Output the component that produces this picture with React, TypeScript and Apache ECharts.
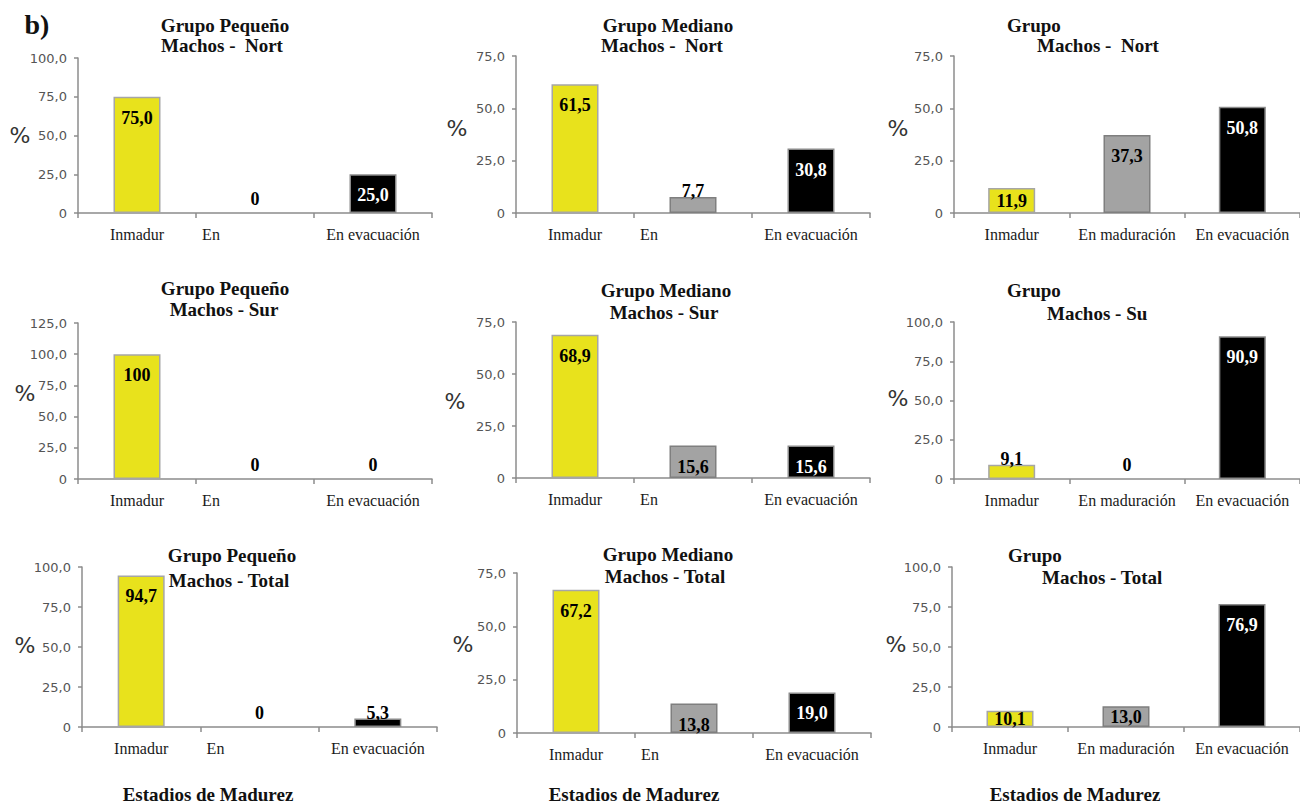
import React, { useEffect, useRef } from "react";
import * as echarts from "echarts";

// ---- data ----
const catsShort = ["Inmadur", "En", "En evacuación"];
const catsFull = ["Inmadur", "En maduración", "En evacuación"];

const pequenoNorte = [75.0, 0, 25.0];
const medianoNorte = [61.5, 7.7, 30.8];
const grandeNorte = [11.9, 37.3, 50.8];
const pequenoSur = [100, 0, 0];
const medianoSur = [68.9, 15.6, 15.6];
const grandeSur = [9.1, 0, 90.9];
const pequenoTotal = [94.7, 0, 5.3];
const medianoTotal = [67.2, 13.8, 19.0];
const grandeTotal = [10.1, 13.0, 76.9];

const yMaxes = [100, 75, 75, 125, 75, 100, 100, 75, 100];
const yStep = 25;

const titleLine1 = [
  "Grupo Pequeño", "Grupo Mediano", "Grupo",
  "Grupo Pequeño", "Grupo Mediano", "Grupo",
  "Grupo Pequeño", "Grupo Mediano", "Grupo",
];
const titleLine2 = [
  "Machos -  Nort", "Machos -  Nort", "Machos -  Nort",
  "Machos - Sur", "Machos - Sur", "Machos - Su",
  "Machos - Total", "Machos - Total", "Machos - Total",
];
const panelValues = [
  pequenoNorte, medianoNorte, grandeNorte,
  pequenoSur, medianoSur, grandeSur,
  pequenoTotal, medianoTotal, grandeTotal,
];
const panelCats = [
  catsShort, catsShort, catsFull,
  catsShort, catsShort, catsFull,
  catsShort, catsShort, catsFull,
];
const xAxisTitle = "Estadios de Madurez";
const yAxisName = "%";
const panelTag = "b)";

// ---- layout / style ----
const grids = [
  { left: 78, top: 58, width: 354, height: 155 },
  { left: 516, top: 56, width: 354, height: 157 },
  { left: 954, top: 56, width: 354, height: 157 },
  { left: 78, top: 323, width: 354, height: 156 },
  { left: 516, top: 322, width: 354, height: 156 },
  { left: 954, top: 322, width: 354, height: 157 },
  { left: 82, top: 567, width: 355, height: 160 },
  { left: 517, top: 573, width: 354, height: 160 },
  { left: 952, top: 567, width: 354, height: 160 },
];
// title positions: [x, y, align] for line1 and line2
const t1Pos: [number, number, string][] = [
  [225, 25, "center"], [668, 25, "center"], [1007, 25, "left"],
  [225, 288, "center"], [666, 290, "center"], [1007, 290, "left"],
  [232, 555, "center"], [668, 554, "center"], [1008, 555, "left"],
];
const t2Pos: [number, number, string][] = [
  [222, 45, "center"], [662, 45, "center"], [1037, 45, "left"],
  [224, 309, "center"], [664, 312, "center"], [1047, 313, "left"],
  [229, 580, "center"], [665, 576, "center"], [1042, 577, "left"],
];
const pctPos: [number, number][] = [
  [20, 135], [457, 128], [898, 128],
  [25, 393], [455, 401], [898, 398],
  [25, 645], [463, 644], [896, 644],
];
const xNamePos: [number, number][] = [[208, 794], [634, 794], [1075, 794]];

const barColors = ["#e8e21c", "#a3a3a3", "#000000"];
const barBorders = ["#a6a6a6", "#7f7f7f", "#8a8a8a"];
const axisColor = "#8c8c8c";
const SERIF = '"Liberation Serif", "DejaVu Serif", serif';
const SANS = '"DejaVu Sans", Verdana, sans-serif';

function fmtVal(v: number) {
  if (v === 0) return "0";
  if (v === 100) return "100";
  return v.toFixed(1).replace(".", ",");
}
function fmtTick(v: number) {
  if (v === 0) return "0";
  return v.toFixed(1).replace(".", ",");
}

export default function App() {
  const ref = useRef<HTMLDivElement>(null);
  useEffect(() => {
    document.body.style.margin = "0";
    if (!ref.current) return;
    const chart = echarts.init(ref.current, undefined, { renderer: "svg" });

    const grid: any[] = [];
    const xAxis: any[] = [];
    const yAxis: any[] = [];
    const series: any[] = [];
    const graphic: any[] = [];

    for (let i = 0; i < 9; i++) {
      const g = grids[i];
      grid.push({ left: g.left, top: g.top, width: g.width, height: g.height, containLabel: false });
      xAxis.push({
        type: "category",
        gridIndex: i,
        data: panelCats[i].map((c) =>
          c === "En"
            ? { value: c, textStyle: { padding: [0, 88, 0, 0] } }
            : c
        ),
        boundaryGap: true,
        axisLine: { show: true, lineStyle: { color: axisColor, width: 1.5 } },
        axisTick: { show: true, length: 5, interval: 0, alignWithLabel: false, lineStyle: { color: axisColor, width: 1.5 } },
        axisLabel: { interval: 0, margin: 13, fontFamily: SERIF, fontSize: 16, color: "#1a1a1a" },
        splitLine: { show: false },
      });
      yAxis.push({
        type: "value",
        gridIndex: i,
        min: 0,
        max: yMaxes[i],
        interval: yStep,
        axisLine: { show: true, lineStyle: { color: axisColor, width: 1.5 } },
        axisTick: { show: true, length: 4, lineStyle: { color: axisColor, width: 1.5 } },
        axisLabel: { margin: 11, fontFamily: SANS, fontSize: 13, color: "#555555", formatter: fmtTick },
        splitLine: { show: false },
      });
      const vals = panelValues[i];
      series.push({
        type: "bar",
        xAxisIndex: i,
        yAxisIndex: i,
        barWidth: 47,
        data: vals.map((v, k) => {
          const h = (v / yMaxes[i]) * g.height;
          let label: any;
          if (v === 0) label = { position: "top", distance: 5 };
          else if (v < 10) label = { position: "top", distance: -3 };
          else if (h < 26) label = { position: "inside" };
          else label = { position: "insideTop", distance: 12 };
          return {
            value: v,
            itemStyle: {
              color: barColors[k],
              borderColor: barBorders[k],
              borderWidth: v === 0 ? 0 : 1.5,
            },
            label: {
              show: true,
              ...label,
              formatter: () => fmtVal(v),
              fontFamily: SERIF,
              fontWeight: "bold",
              fontSize: 18,
              color: k === 2 && v !== 0 && label.position !== "top" ? "#ffffff" : "#000000",
            },
          };
        }),
      });
      graphic.push({
        type: "text",
        x: t1Pos[i][0],
        y: t1Pos[i][1],
        style: { text: titleLine1[i], font: `bold 19px ${SERIF}`, fill: "#111", textAlign: t1Pos[i][2], textVerticalAlign: "middle" },
      });
      graphic.push({
        type: "text",
        x: t2Pos[i][0],
        y: t2Pos[i][1],
        style: { text: titleLine2[i], font: `bold 19px ${SERIF}`, fill: "#111", textAlign: t2Pos[i][2], textVerticalAlign: "middle" },
      });
      graphic.push({
        type: "text",
        x: pctPos[i][0],
        y: pctPos[i][1],
        style: { text: yAxisName, font: `22px ${SANS}`, fill: "#333", textAlign: "center", textVerticalAlign: "middle" },
      });
    }
    for (const p of xNamePos) {
      graphic.push({
        type: "text",
        x: p[0],
        y: p[1],
        style: { text: xAxisTitle, font: `bold 19px ${SERIF}`, fill: "#111", textAlign: "center", textVerticalAlign: "middle" },
      });
    }
    graphic.push({
      type: "text",
      x: 37,
      y: 24,
      style: { text: panelTag, font: `bold 28px ${SERIF}`, fill: "#111", textAlign: "center", textVerticalAlign: "middle" },
    });

    chart.setOption({
      animation: false,
      backgroundColor: "#ffffff",
      grid,
      xAxis,
      yAxis,
      series,
      graphic,
    });
    return () => chart.dispose();
  }, []);
  return (
    <div
      ref={ref}
      style={{ position: "absolute", left: 0, top: 0, width: 1300, height: 804 }}
    />
  );
}
